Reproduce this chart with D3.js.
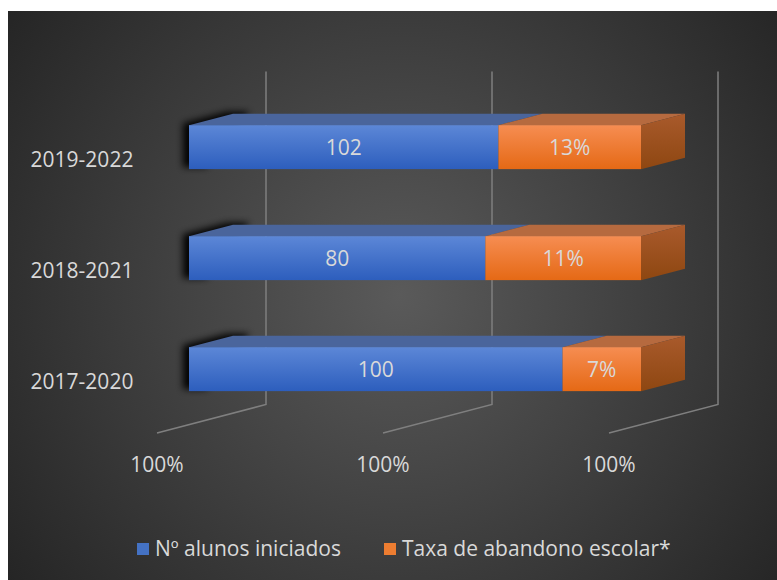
<!DOCTYPE html>
<html>
<head>
<meta charset="utf-8">
<script src="https://cdn.jsdelivr.net/npm/d3@7"></script>
<style>
  html, body { margin: 0; padding: 0; background: #ffffff; }
  svg { display: block; }
  text { font-family: "Open Sans", "Noto Sans", sans-serif; fill: #d9d9d9; }
</style>
</head>
<body>
<svg id="chart" width="777" height="580"></svg>
<script>
// ---- data ----
const categories = ["2017-2020", "2018-2021", "2019-2022"];
const alunosValues = [100, 80, 102];            // Nº alunos iniciados (label + stacked value)
const taxaValues = [21, 42, 47];                // hidden stacked value of second series
const taxaLabels = ["7%", "11%", "13%"];        // data labels shown on second series
const seriesNames = ["Nº alunos iniciados", "Taxa de abandono escolar*"];
const tickValues = [0, 0.5, 1];
const tickLabels = ["100%", "100%", "100%"];

// ---- layout ----
const W = 777, H = 580;
const svg = d3.select("#chart");
const defs = svg.append("defs");

const bg = defs.append("radialGradient").attr("id", "bg")
  .attr("gradientUnits", "userSpaceOnUse").attr("cx", 400).attr("cy", 295).attr("r", 485);
bg.append("stop").attr("offset", 0).attr("stop-color", "#5a5a5a");
bg.append("stop").attr("offset", 1).attr("stop-color", "#252525");

function vgrad(id, c0, c1) {
  const g = defs.append("linearGradient").attr("id", id).attr("x1", 0).attr("y1", 0).attr("x2", 0).attr("y2", 1);
  g.append("stop").attr("offset", 0).attr("stop-color", c0);
  g.append("stop").attr("offset", 1).attr("stop-color", c1);
}
vgrad("blueFront", "#5c87d7", "#2d5ebd");
vgrad("orangeFront", "#f68d52", "#e56915");
vgrad("orangeSide", "#a95a2c", "#8e4711");

const blur = defs.append("filter").attr("id", "shadow").attr("x", "-100%").attr("y", "-100%").attr("width", "300%").attr("height", "300%");
blur.append("feGaussianBlur").attr("stdDeviation", 3.5);

svg.append("rect").attr("x", 8).attr("y", 11).attr("width", W - 8).attr("height", H - 11).attr("fill", "url(#bg)");

// front plane of the 3D box
const x0 = 157, plotW = 452;
const yTop = 100, yBottom = 433;
const depthX = 109, depthY = -28.5;
const zFront = 32 / 109, zBack = 76 / 109;

const x = d3.scaleLinear().domain([0, 1]).range([0, plotW]);
const y = d3.scaleBand().domain(categories.slice().reverse()).range([yTop, yBottom])
  .paddingInner(0.6036).paddingOuter(0.3018);

function P(v, yy, z) { return [x0 + x(v) + z * depthX, yy + z * depthY]; }
function poly(pts) { return "M" + pts.map(p => p.join(",")).join("L") + "Z"; }

// gridlines (back wall + floor)
const grid = svg.append("g");
tickValues.forEach(t => {
  const a = P(t, yTop, 1), b = P(t, yBottom, 1), c = P(t, yBottom, 0);
  grid.append("path").attr("d", `M${a}L${b}L${c}`).attr("fill", "none")
    .attr("stroke", "#7f7f7f").attr("stroke-width", 1.5);
});

// tick labels
svg.append("g").selectAll("text").data(tickValues).join("text")
  .attr("x", d => P(d, yBottom, 0)[0]).attr("y", yBottom + 39)
  .attr("text-anchor", "middle").attr("font-size", 21)
  .text((d, i) => tickLabels[i]);

// category labels
svg.append("g").selectAll("text").data(categories).join("text")
  .attr("x", 82).attr("y", d => y(d) + y.bandwidth() / 2 + 11)
  .attr("text-anchor", "middle").attr("font-size", 21)
  .text(d => d);

// stacked 100% data
const rows = categories.map((c, i) => ({ cat: c, a: alunosValues[i], b: taxaValues[i], lab: taxaLabels[i] }));
rows.forEach(r => { r.total = r.a + r.b; r.fa = r.a / r.total; });

const bars = svg.append("g");
rows.forEach(r => {
  const yt = y(r.cat), yb = y(r.cat) + y.bandwidth();
  const g = bars.append("g");
  // shadow at left end
  const sw = 0.05;
  g.append("path")
    .attr("d", poly([P(0, yt, zFront), P(0, yt, zBack), P(sw, yt, zBack), P(sw, yb, zFront), P(0, yb, zFront)]))
    .attr("transform", "translate(-6,-2)").attr("fill", "#000").attr("opacity", 0.95)
    .attr("filter", "url(#shadow)");
  const segs = [
    { s: 0, e: r.fa, front: "url(#blueFront)", top: "#4a659c", label: String(r.a) },
    { s: r.fa, e: 1, front: "url(#orangeFront)", top: "#b66a3f", label: r.lab }
  ];
  segs.forEach(sg => {
    g.append("path").attr("d", poly([P(sg.s, yt, zFront), P(sg.s, yt, zBack), P(sg.e, yt, zBack), P(sg.e, yt, zFront)]))
      .attr("fill", sg.top);
  });
  // right side of last segment
  g.append("path").attr("d", poly([P(1, yt, zFront), P(1, yt, zBack), P(1, yb, zBack), P(1, yb, zFront)]))
    .attr("fill", "url(#orangeSide)");
  segs.forEach(sg => {
    const a = P(sg.s, yt, zFront), b = P(sg.e, yb, zFront);
    g.append("rect").attr("x", a[0]).attr("y", a[1]).attr("width", b[0] - a[0]).attr("height", b[1] - a[1])
      .attr("fill", sg.front);
    g.append("text").attr("x", (a[0] + b[0]) / 2).attr("y", (a[1] + b[1]) / 2 + 7.5)
      .attr("text-anchor", "middle").attr("font-size", 21).text(sg.label);
  });
});

// legend
const legend = svg.append("g");
const legColors = ["#4472c4", "#ed7d31"];
const legX = [137, 384];
seriesNames.forEach((n, i) => {
  legend.append("rect").attr("x", legX[i]).attr("y", 543).attr("width", 12).attr("height", 12).attr("fill", legColors[i]);
  legend.append("text").attr("x", legX[i] + 18).attr("y", 556).attr("font-size", 21).text(n);
});
</script>
</body>
</html>
